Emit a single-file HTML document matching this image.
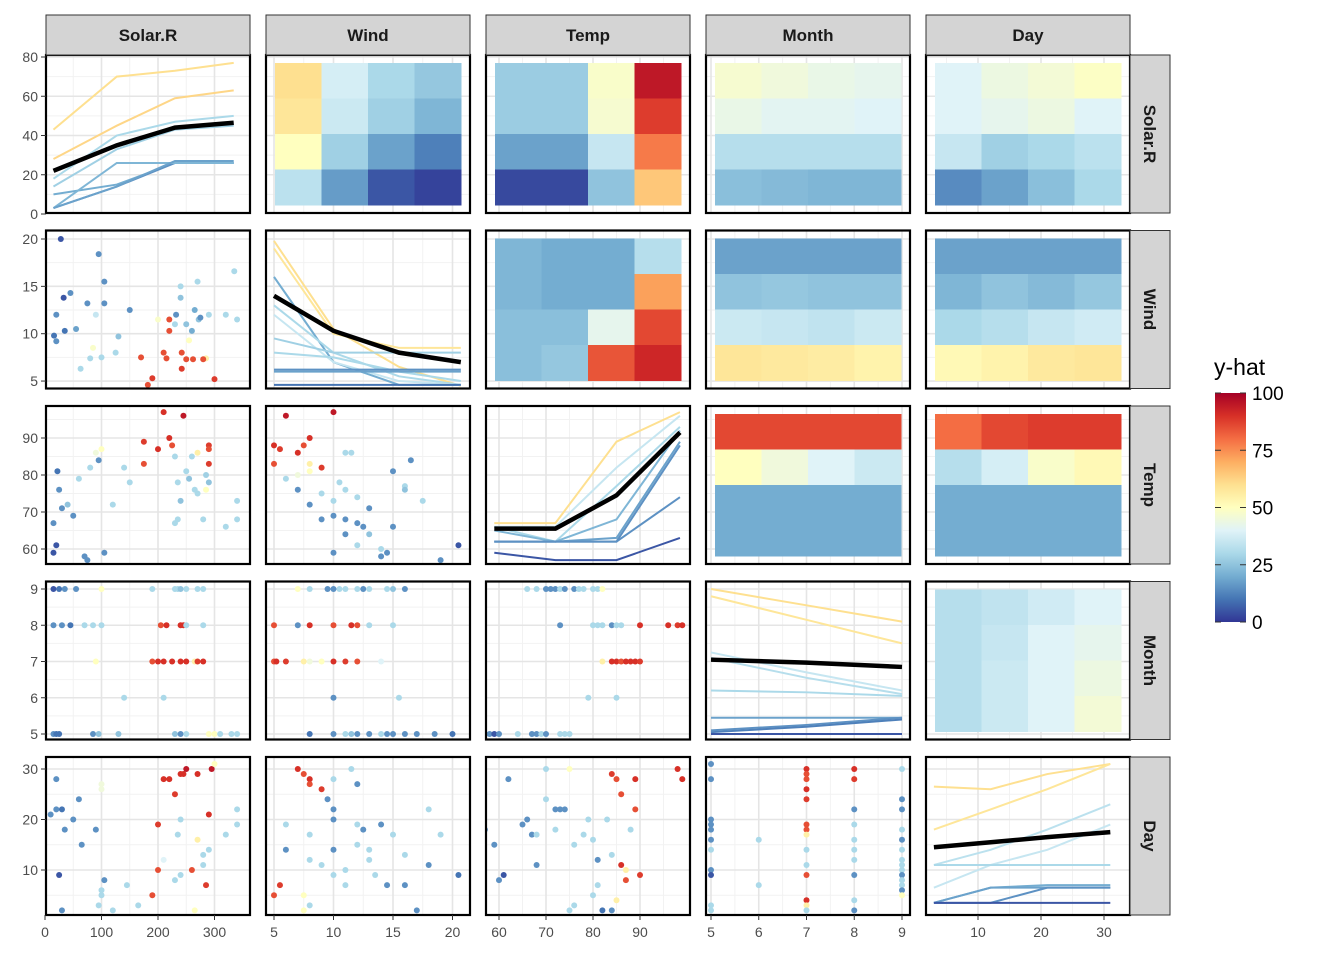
<!DOCTYPE html>
<html><head><meta charset="utf-8"><style>
body{margin:0;background:#fff;}
svg text{font-family:"Liberation Sans",Arial,sans-serif;}
</style></head><body>
<svg id="c" width="1344" height="960" xmlns="http://www.w3.org/2000/svg"></svg>
<script>
const vars = ["Solar.R","Wind","Temp","Month","Day"];
const xTicks = [[0,100,200,300],[5,10,15,20],[60,70,80,90],[5,6,7,8,9],[10,20,30]];
const xMinor = [[50,150,250],[7.5,12.5,17.5],[65,75,85,95],[5.5,6.5,7.5,8.5],[5,15,25]];
const yTicks = [[0,20,40,60,80],[5,10,15,20],[60,70,80,90],[5,6,7,8,9],[10,20,30]];
const yMinor = [[10,30,50,70],[7.5,12.5,17.5],[65,75,85,95],[5.5,6.5,7.5,8.5],[5,15,25]];
const legendTicks = [0,25,50,75,100];

const heat_0_1 = [[60,38,30,26],[58,36,28,22],[50,28,18,12],[33,17,5,2]];
const heat_0_2 = [[27,27,48,95],[27,27,47,88],[18,18,35,78],[3,3,25,65]];
const heat_0_3 = [[47,45,43,42],[43,41,41,40],[32,32,32,32],[24,23,22,22]];
const heat_0_4 = [[40,44,46,49],[40,42,44,40],[35,28,30,33],[14,18,24,30]];
const heat_1_2 = [[22,20,20,32],[22,20,20,72],[24,24,42,86],[24,26,84,92]];
const heat_1_3 = [[18,18,18,18],[25,26,25,25],[36,35,34,36],[58,57,56,54]];
const heat_1_4 = [[18,18,18,18],[22,25,23,26],[30,32,35,37],[52,54,57,58]];
const heat_2_3 = [[86,86,86,86],[50,45,40,36],[20,20,20,20],[20,20,20,20]];
const heat_2_4 = [[80,86,88,88],[32,38,48,52],[20,20,20,20],[20,20,20,20]];
const heat_3_4 = [[32,34,37,40],[32,35,40,42],[32,36,40,44],[32,36,40,46]];

const ice0x = [15,127,230,334];
const ice0y = [[43,70,73,77],[28,45,59,63],[18,40,47,50],[14,33,43,45],[10,15,26,26],[3,14,26,26],[3,26,26,26],[3,14,27,27]];
const ice0c = [60,62,30,28,20,15,22,18];
const ice0m = [22,35,44,46.5];
const ice1x = [5,10,15.5,20.7];
const ice1y = [[19.8,10.5,6.5,4.5],[19,10,8.5,8.5],[16,7,4.6,4.6],[13,8,5.5,4.6],[12,7,5,4.6],[9.5,8,8,8],[8,7.5,6,5],[6.2,6.2,6.2,6.2],[6,6,6,6],[4.6,4.6,4.6,4.6]];
const ice1c = [60,58,20,30,35,28,30,15,18,10];
const ice1m = [14,10.3,8,7];
const ice2x = [59,72,85,98.5];
const ice2y = [[67,67,89,97],[66,66,82,96],[66,62,77,93],[65,62,68,92],[62,62,63,89],[62,62,62,88],[62,62,62,74],[59,57,57,63]];
const ice2c = [60,35,30,22,18,15,15,5];
const ice2m = [65.5,65.5,74.5,91.5];
const ice3x = [5,7,9];
const ice3y = [[9,8.55,8.1],[8.8,8.15,7.5],[7.25,6.7,6.2],[7.1,6.55,6.1],[6.2,6.15,6.05],[5.45,5.45,5.45],[5.1,5.25,5.45],[5.05,5.2,5.4],[5,5,5]];
const ice3c = [60,58,35,32,30,18,15,12,5];
const ice3m = [7.05,6.97,6.85];
const ice4x = [3,12,21,31];
const ice4y = [[26.5,26,29,31],[18,22,26,31],[11,14,18,23],[6.5,11,14,19],[11,11,11,11],[3.5,6.5,7,7],[3.5,6.5,6.5,6.5],[3.5,3.5,6.5,6.5],[3.5,3.5,3.5,3.5]];
const ice4c = [60,58,33,35,30,20,18,15,5];
const ice4m = [14.5,15.5,16.5,17.5];

const pts_1_0 = [[28,20,5],[20,12,15],[16,9.8,10],[20,9.2,15],[35,10.3,10],[33,13.8,5],[45,14.3,15],[63,6.3,30],[55,10.5,18],[75,13.2,15],[80,7.4,30],[90,12,35],[85,8.5,48],[95,18.4,15],[105,15.5,15],[105,13.2,15],[100,7.5,30],[125,8,30],[130,9.7,25],[150,12.5,15],[170,7.5,85],[190,5.3,88],[182,4.6,85],[200,11.5,48],[210,8,85],[215,7.4,85],[220,10.3,85],[230,11,30],[220,11.5,85],[232,12,15],[240,13.8,25],[240,15,30],[242,8,85],[242,6.3,88],[250,7.3,85],[255,9.3,50],[262,7.3,85],[270,15.5,30],[260,10.3,20],[285,7.4,55],[280,7.3,85],[290,12,30],[272,11.5,25],[275,11.7,15],[300,5.2,88],[320,12,30],[335,16.6,30],[340,11.5,30],[250,11,25],[265,12.5,20]];
const pts_2_0 = [[15,59,5],[20,61,5],[15,67,15],[25,76,15],[22,81,10],[30,71,15],[40,72,25],[50,69,15],[60,79,30],[70,58,15],[75,57,15],[80,82,30],[90,86,45],[100,87,50],[95,84,15],[105,59,15],[120,72,30],[140,82,30],[150,78,30],[175,89,88],[175,83,85],[200,87,90],[210,97,90],[220,90,90],[225,88,85],[230,85,30],[240,73,25],[235,78,30],[230,67,30],[235,68,30],[245,96,95],[250,81,30],[255,79,25],[260,85,30],[265,76,30],[270,75,30],[270,86,55],[280,68,30],[290,78,25],[290,88,88],[290,87,85],[285,80,28],[290,83,88],[320,66,30],[340,73,30],[340,68,30],[285,76,50]];
const pts_3_0 = [[15,9,5],[25,9,10],[35,9,15],[55,9,15],[100,9,50],[190,9,30],[230,9,30],[235,9,30],[240,9,25],[250,9,30],[270,9,30],[280,9,30],[15,8,15],[30,8,15],[45,8,10],[70,8,30],[85,8,30],[100,8,30],[205,8,85],[215,8,90],[240,8,90],[245,8,90],[250,8,30],[280,8,30],[90,7,50],[190,7,85],[200,7,90],[210,7,90],[225,7,90],[240,7,90],[250,7,90],[265,7,55],[270,7,88],[280,7,90],[140,6,30],[210,6,30],[15,5,15],[20,5,10],[25,5,10],[85,5,15],[95,5,25],[130,5,25],[230,5,25],[240,5,15],[290,5,50],[300,5,50],[310,5,30],[330,5,30],[340,5,30],[250,5,30]];
const pts_4_0 = [[10,21,15],[20,22,15],[30,22,10],[20,28,15],[35,18,15],[25,9,5],[30,2,15],[50,20,15],[60,24,15],[65,15,15],[90,18,15],[95,3,30],[100,6,30],[105,8,15],[100,5,30],[100,27,45],[100,26,45],[120,2,30],[145,7,30],[165,3,30],[190,5,85],[200,19,88],[200,10,85],[210,28,90],[210,12,40],[220,28,90],[230,25,88],[240,29,90],[240,20,30],[235,17,30],[240,9,30],[230,8,30],[245,29,90],[250,30,95],[260,10,85],[265,2,50],[270,16,55],[270,29,90],[280,13,30],[290,14,30],[280,11,30],[285,7,88],[290,21,90],[295,30,95],[300,31,50],[320,17,30],[340,22,30],[340,19,30]];
const pts_2_1 = [[6,96,95],[5,88,90],[5.5,87,88],[5,83,85],[7,86,90],[8,90,90],[9,82,88],[7.5,88,85],[8,83,55],[8,81,50],[10,97,95],[6,79,30],[7,76,15],[8,72,15],[9,68,15],[10,73,30],[10.5,78,30],[11,86,30],[11.5,86,30],[11,76,30],[10,69,15],[11,68,15],[12,67,15],[12,74,30],[11,64,15],[10,59,15],[12.5,66,15],[13,71,15],[14,58,15],[14.5,59,15],[15,81,15],[15,66,15],[16,77,30],[16.5,84,15],[16,76,25],[17.5,73,30],[19,57,15],[20.5,61,5],[14,60,30],[12,61,30],[13,64,25],[9,75,30],[7,80,45]];
const pts_3_1 = [[7,9,50],[8,9,30],[9.5,9,15],[10,9,15],[10.5,9,30],[11,9,30],[12,9,30],[12.5,9,15],[13,9,30],[14.5,9,30],[15,9,25],[16,9,15],[5,8,85],[7,8,15],[8,8,90],[10,8,85],[11.5,8,90],[12,8,85],[13,8,30],[15,8,30],[5,7,85],[5.2,7,90],[6,7,88],[7.5,7,55],[8,7,45],[9,7,50],[10,7,90],[11,7,88],[12,7,85],[14,7,40],[10,6,15],[15.5,6,30],[8,5,10],[10,5,15],[11,5,30],[11.5,5,25],[12,5,15],[13,5,15],[14,5,30],[14.5,5,15],[15,5,15],[16,5,15],[17,5,15],[18.5,5,15],[20,5,10]];
const pts_4_1 = [[5,5,85],[5.5,7,88],[6,19,30],[7,30,90],[7.5,29,85],[8,28,90],[8,27,85],[7.5,2,50],[8,3,30],[7.5,5,50],[8,12,30],[8,17,30],[9,26,88],[9.5,24,15],[10,28,30],[10,20,15],[10,22,15],[9,11,30],[10,14,15],[10,9,30],[11,7,30],[11,10,30],[11.5,30,30],[12,15,30],[12,19,30],[12.5,18,15],[12,27,15],[13,14,30],[13,12,30],[13.5,9,30],[14,19,15],[14.5,7,15],[15,17,30],[16,7,15],[16,13,30],[17,2,15],[18,22,30],[18,11,15],[19,17,30],[20.5,9,10],[6,14,15]];
const pts_3_2 = [[66,9,30],[68,9,30],[70,9,15],[71,9,15],[72,9,15],[73,9,30],[74,9,15],[76,9,15],[77,9,30],[78,9,30],[80,9,30],[81,9,30],[82,9,50],[73,8,15],[80,8,30],[81,8,30],[82,8,30],[84,8,15],[85,8,30],[86,8,30],[90,8,90],[96,8,90],[98,8,88],[99,8,90],[82,7,55],[84,7,90],[85,7,90],[86,7,85],[87,7,90],[88,7,90],[89,7,90],[90,7,88],[79,6,30],[85,6,30],[57,5,15],[58,5,15],[59,5,5],[60,5,15],[64,5,30],[67,5,15],[68,5,15],[69,5,30],[70,5,15],[73,5,30],[74,5,30],[75,5,30]];
const pts_4_2 = [[57,18,15],[59,15,15],[60,8,15],[61,9,5],[62,28,15],[65,19,15],[66,20,15],[67,17,15],[68,17,30],[68,11,15],[70,30,30],[70,24,30],[72,22,15],[73,22,15],[74,22,15],[72,18,30],[75,30,50],[75,2,30],[76,3,30],[76,15,30],[78,17,30],[79,20,30],[80,16,30],[80,5,30],[81,7,30],[81,12,15],[82,2,10],[84,2,15],[83,20,30],[84,29,88],[85,28,85],[86,25,85],[86,11,90],[87,10,55],[87,8,85],[88,18,30],[89,28,90],[89,22,85],[90,9,88],[84,13,30],[98,30,90],[99,28,90],[85,4,55]];
const pts_4_3 = [[5,31,15],[5,28,15],[5,20,15],[5,19,15],[5,18,15],[5,16,15],[5,14,30],[5,10,15],[5,9,5],[5,3,30],[5,2,30],[6,16,30],[6,7,30],[7,30,90],[7,29,85],[7,28,85],[7,26,90],[7,24,88],[7,19,85],[7,18,85],[7,17,55],[7,14,30],[7,11,30],[7,9,85],[7,4,90],[7,3,55],[7,2,30],[8,30,90],[8,28,88],[8,22,15],[8,19,30],[8,16,30],[8,14,30],[8,12,30],[8,4,30],[8,2,15],[8,9,15],[9,30,30],[9,24,15],[9,22,15],[9,18,30],[9,16,15],[9,12,30],[9,11,30],[9,10,30],[9,9,15],[9,8,30],[9,7,30],[9,6,15],[9,5,50],[9,14,30]];

const HEAT = {"0_1":heat_0_1,"0_2":heat_0_2,"0_3":heat_0_3,"0_4":heat_0_4,"1_2":heat_1_2,"1_3":heat_1_3,"1_4":heat_1_4,"2_3":heat_2_3,"2_4":heat_2_4,"3_4":heat_3_4};
const ICE = [[ice0x,ice0y,ice0c,ice0m],[ice1x,ice1y,ice1c,ice1m],[ice2x,ice2y,ice2c,ice2m],[ice3x,ice3y,ice3c,ice3m],[ice4x,ice4y,ice4c,ice4m]];
const PTS = {"1_0":pts_1_0,"2_0":pts_2_0,"3_0":pts_3_0,"4_0":pts_4_0,"2_1":pts_2_1,"3_1":pts_3_1,"4_1":pts_4_1,"3_2":pts_3_2,"4_2":pts_4_2,"4_3":pts_4_3};

const PX = [46,266,486,706,926], PW = 204;
const PY = [55,230.5,406,581.5,757], PH = 158;
const xScale = [v=>45+0.565*v, v=>274+(v-5)*11.9, v=>499+(v-60)*4.7, v=>711+(v-5)*47.75, v=>978+(v-10)*6.3];
const yScale = [v=>214-1.9625*v, v=>239+(20-v)*9.47, v=>438+(90-v)*3.7, v=>589+(9-v)*36.25, v=>769+(30-v)*5.05];

const stops = ["#313695","#4575b4","#74add1","#abd9e9","#e0f3f8","#ffffbf","#fee090","#fdae61","#f46d43","#d73027","#a50026"];
function hex(h){return [1,3,5].map(i=>parseInt(h.substr(i,2),16));}
function col(v){v=Math.max(0,Math.min(100,v));const t=v/10,i=Math.min(9,Math.floor(t)),f=t-i;const a=hex(stops[i]),b=hex(stops[i+1]);return "rgb("+a.map((c,k)=>Math.round(c+(b[k]-c)*f)).join(",")+")";}

const svg=document.getElementById("c"), NS="http://www.w3.org/2000/svg";
function mk(tag,attrs,parent){const e=document.createElementNS(NS,tag);for(const k in attrs)e.setAttribute(k,attrs[k]);(parent||svg).appendChild(e);return e;}

const defs=mk("defs",{});
for(let r=0;r<5;r++)for(let c=0;c<5;c++){const cp=mk("clipPath",{id:"cp"+r+c},defs);mk("rect",{x:PX[c],y:PY[r],width:PW,height:PH},cp);}

for(let r=0;r<5;r++)for(let c=0;c<5;c++){
  const g=mk("g",{"clip-path":"url(#cp"+r+c+")"});
  
  
  mk("rect",{x:PX[c],y:PY[r],width:PW,height:PH,fill:"#fff"},g);
  xMinor[c].forEach(v=>mk("line",{x1:xScale[c](v),x2:xScale[c](v),y1:PY[r],y2:PY[r]+PH,stroke:"#f2f2f2","stroke-width":1},g));
  yMinor[r].forEach(v=>mk("line",{y1:yScale[r](v),y2:yScale[r](v),x1:PX[c],x2:PX[c]+PW,stroke:"#f2f2f2","stroke-width":1},g));
  xTicks[c].forEach(v=>mk("line",{x1:xScale[c](v),x2:xScale[c](v),y1:PY[r],y2:PY[r]+PH,stroke:"#e5e5e5","stroke-width":1.6},g));
  yTicks[r].forEach(v=>mk("line",{y1:yScale[r](v),y2:yScale[r](v),x1:PX[c],x2:PX[c]+PW,stroke:"#e5e5e5","stroke-width":1.6},g));
  if(c>r){
    const H=HEAT[r+"_"+c]; const x0=PX[c]+9,y0=PY[r]+8,cw=(PW-18)/4,ch=(PH-16)/4;
    H.forEach((row,i)=>row.forEach((v,j)=>{const e=mk("rect",{x:x0+j*cw,y:y0+i*ch,width:cw+0.5,height:ch+0.5,fill:col(v)},g);
      
      }));
  } else if(c===r){
    const [X,Y,C,M]=ICE[r];
    Y.forEach((s,k)=>{const e=mk("polyline",{points:s.map((v,i)=>xScale[c](X[i])+","+yScale[r](v)).join(" "),fill:"none",stroke:col(C[k]),"stroke-width":2},g);
      
      });
    const m=mk("polyline",{points:M.map((v,i)=>xScale[c](X[i])+","+yScale[r](v)).join(" "),fill:"none",stroke:"#000","stroke-width":4.5},g);
    
    
  } else {
    const P=PTS[r+"_"+c];
    P.forEach(p=>{const e=mk("circle",{cx:xScale[c](p[0]),cy:yScale[r](p[1]),r:3,fill:col(p[2])},g);
      
      });
  }
  mk("rect",{x:PX[c],y:PY[r],width:PW,height:PH,fill:"none",stroke:"#000","stroke-width":2.2});
}
for(let c=0;c<5;c++){
  const s=mk("rect",{x:PX[c],y:15,width:PW,height:40,fill:"#d4d4d4",stroke:"#333","stroke-width":1});
  
  
  const t=mk("text",{x:PX[c]+PW/2,y:41,"text-anchor":"middle","font-size":17,"font-weight":"bold",fill:"#1a1a1a"});t.textContent=vars[c];
  
  
}
for(let r=0;r<5;r++){
  const s=mk("rect",{x:1130,y:PY[r],width:40,height:PH,fill:"#d4d4d4",stroke:"#333","stroke-width":1});
  
  
  const cy=PY[r]+PH/2;
  const t=mk("text",{x:1144,y:cy,"text-anchor":"middle","font-size":17,"font-weight":"bold",fill:"#1a1a1a",transform:"rotate(90 1144 "+cy+")"});t.textContent=vars[r];
  
  
}
for(let r=0;r<5;r++)yTicks[r].forEach(v=>{const y=yScale[r](v);mk("line",{x1:41,x2:46,y1:y,y2:y,stroke:"#333"});
  const t=mk("text",{x:38,y:y+5,"text-anchor":"end","font-size":14,fill:"#4d4d4d"});t.textContent=v;
  
  });
for(let c=0;c<5;c++)xTicks[c].forEach(v=>{const x=xScale[c](v);mk("line",{x1:x,x2:x,y1:915,y2:920,stroke:"#333"});
  const t=mk("text",{x:x,y:937,"text-anchor":"middle","font-size":14,fill:"#4d4d4d"});t.textContent=v;
  
  });
const lt=mk("text",{x:1214,y:375,"font-size":23,fill:"#000"});lt.textContent="y-hat";


const lg=mk("linearGradient",{id:"lgr",x1:0,y1:1,x2:0,y2:0},defs);
stops.forEach((s,i)=>mk("stop",{offset:i/10,"stop-color":s},lg));
const bar=mk("rect",{x:1215,y:393,width:31,height:229,fill:"url(#lgr)"});


legendTicks.forEach(v=>{const y=622-v*2.29;
  mk("line",{x1:1215,x2:1221,y1:y,y2:y,stroke:"#333"});mk("line",{x1:1240,x2:1246,y1:y,y2:y,stroke:"#333"});
  const t=mk("text",{x:1252,y:y+7,"font-size":19,fill:"#000"});t.textContent=v;
  
  });
</script>
</body></html>
